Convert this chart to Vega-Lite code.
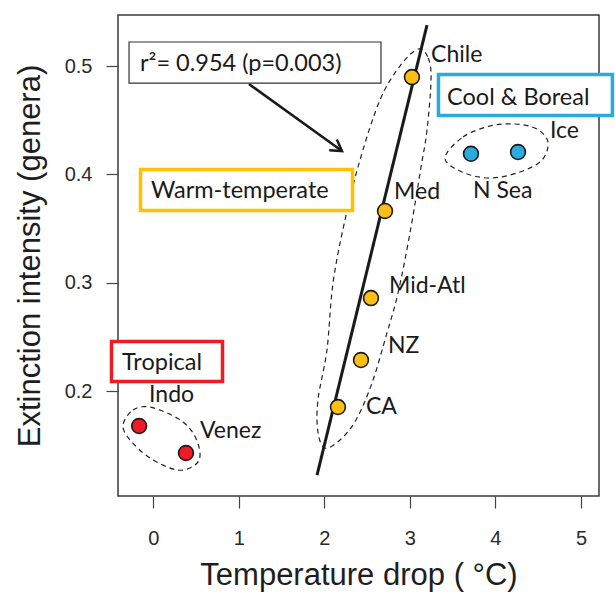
{
  "$schema": "https://vega.github.io/schema/vega-lite/v6.json",
  "width": 481,
  "height": 481,
  "autosize": {"type": "none"},
  "padding": {"left": 118, "top": 15, "right": 16, "bottom": 97},
  "background": "white",
  "config": {
    "view": {"stroke": "#3a3a3a", "strokeWidth": 1.5},
    "axis": {"grid": false, "domain": false, "tickColor": "#444", "tickWidth": 1.2, "tickSize": 12,
      "labelFont": "Liberation Sans", "labelFontSize": 20, "labelColor": "#2a2a2a",
      "titleFont": "Liberation Sans", "titleFontSize": 31, "titleFontWeight": "normal", "titleColor": "#1e1e1e"}
  },
  "datasets": {
    "pts": [
      {"name": "Chile", "region": "warm", "x": 3.024, "y": 0.4898},
      {"name": "Ice", "region": "cool", "x": 4.264, "y": 0.4206},
      {"name": "N Sea", "region": "cool", "x": 3.714, "y": 0.419},
      {"name": "Med", "region": "warm", "x": 2.709, "y": 0.3662},
      {"name": "Mid-Atl", "region": "warm", "x": 2.545, "y": 0.2858},
      {"name": "NZ", "region": "warm", "x": 2.428, "y": 0.2286},
      {"name": "CA", "region": "warm", "x": 2.159, "y": 0.1852},
      {"name": "Indo", "region": "trop", "x": -0.166, "y": 0.1677},
      {"name": "Venez", "region": "trop", "x": 0.382, "y": 0.1428}
    ],
    "labels": [
      {"name": "Chile", "x": 3.248, "y": 0.5037},
      {"name": "Ice", "x": 4.638, "y": 0.4335},
      {"name": "N Sea", "x": 3.737, "y": 0.3781},
      {"name": "Med", "x": 2.814, "y": 0.3772},
      {"name": "Mid-Atl", "x": 2.755, "y": 0.2906},
      {"name": "NZ", "x": 2.744, "y": 0.2352},
      {"name": "CA", "x": 2.486, "y": 0.1789},
      {"name": "Indo", "x": -0.05, "y": 0.1899},
      {"name": "Venez", "x": 0.546, "y": 0.1567}
    ],
    "fit": [
      {"x": 1.914, "y": 0.1224},
      {"x": 3.2, "y": 0.5378}
    ],
    "ell": [
      {"grp": "trop", "ord": 1, "x": -0.354, "y": 0.1686},
      {"grp": "trop", "ord": 2, "x": -0.237, "y": 0.1825},
      {"grp": "trop", "ord": 3, "x": -0.039, "y": 0.1852},
      {"grp": "trop", "ord": 4, "x": 0.277, "y": 0.1751},
      {"grp": "trop", "ord": 5, "x": 0.464, "y": 0.1613},
      {"grp": "trop", "ord": 6, "x": 0.546, "y": 0.1428},
      {"grp": "trop", "ord": 7, "x": 0.488, "y": 0.1317},
      {"grp": "trop", "ord": 8, "x": 0.277, "y": 0.1271},
      {"grp": "trop", "ord": 9, "x": -0.039, "y": 0.1382},
      {"grp": "trop", "ord": 10, "x": -0.272, "y": 0.1548},
      {"grp": "cool", "ord": 1, "x": 3.41, "y": 0.4151},
      {"grp": "cool", "ord": 2, "x": 3.621, "y": 0.4345},
      {"grp": "cool", "ord": 3, "x": 3.936, "y": 0.4446},
      {"grp": "cool", "ord": 4, "x": 4.229, "y": 0.4465},
      {"grp": "cool", "ord": 5, "x": 4.486, "y": 0.4418},
      {"grp": "cool", "ord": 6, "x": 4.614, "y": 0.4298},
      {"grp": "cool", "ord": 7, "x": 4.544, "y": 0.4132},
      {"grp": "cool", "ord": 8, "x": 4.287, "y": 0.4022},
      {"grp": "cool", "ord": 9, "x": 3.936, "y": 0.3966},
      {"grp": "cool", "ord": 10, "x": 3.609, "y": 0.4022},
      {"grp": "warm", "ord": 1, "x": 3.097, "y": 0.5157},
      {"grp": "warm", "ord": 2, "x": 3.214, "y": 0.5074},
      {"grp": "warm", "ord": 3, "x": 3.247, "y": 0.4871},
      {"grp": "warm", "ord": 4, "x": 3.2, "y": 0.4409},
      {"grp": "warm", "ord": 5, "x": 3.13, "y": 0.4068},
      {"grp": "warm", "ord": 6, "x": 3.001, "y": 0.3459},
      {"grp": "warm", "ord": 7, "x": 2.861, "y": 0.2905},
      {"grp": "warm", "ord": 8, "x": 2.732, "y": 0.2536},
      {"grp": "warm", "ord": 9, "x": 2.557, "y": 0.2074},
      {"grp": "warm", "ord": 10, "x": 2.37, "y": 0.1733},
      {"grp": "warm", "ord": 11, "x": 2.183, "y": 0.1548},
      {"grp": "warm", "ord": 12, "x": 2.007, "y": 0.1474},
      {"grp": "warm", "ord": 13, "x": 1.925, "y": 0.1622},
      {"grp": "warm", "ord": 14, "x": 1.925, "y": 0.1917},
      {"grp": "warm", "ord": 15, "x": 2.03, "y": 0.2379},
      {"grp": "warm", "ord": 16, "x": 2.101, "y": 0.2997},
      {"grp": "warm", "ord": 17, "x": 2.241, "y": 0.3579},
      {"grp": "warm", "ord": 18, "x": 2.416, "y": 0.4132},
      {"grp": "warm", "ord": 19, "x": 2.65, "y": 0.4686},
      {"grp": "warm", "ord": 20, "x": 2.884, "y": 0.5}
    ],
    "statbox": [
      {"x": -0.284, "x2": 2.662, "y": 0.5222, "y2": 0.4843}
    ],
    "boxes": [
      {"box": "warm", "x": -0.15, "x2": 2.329, "y": 0.4045, "y2": 0.3666},
      {"box": "cool", "x": 3.334, "x2": 5.368, "y": 0.4922, "y2": 0.4543},
      {"box": "trop", "x": -0.489, "x2": 0.809, "y": 0.2457, "y2": 0.2088}
    ],
    "boxtext": [
      {"text": "r²= 0.954 (p=0.003)", "x": -0.155, "y": 0.4954},
      {"text": "Warm-temperate", "x": -0.027, "y": 0.3781},
      {"text": "Cool & Boreal", "x": 3.434, "y": 0.464},
      {"text": "Tropical", "x": -0.366, "y": 0.2194}
    ],
    "arrow": [
      {"x": 1.118, "y": 0.4834, "x2": 2.206, "y2": 0.4215}
    ]
  },
  "encoding": {
    "x": {"field": "x", "type": "quantitative",
      "scale": {"domain": [-0.413, 5.211], "nice": false, "zero": false},
      "axis": {"values": [0, 1, 2, 3, 4, 5], "title": "Temperature drop ( °C)", "labelPadding": 20, "titlePadding": 12}},
    "y": {"field": "y", "type": "quantitative",
      "scale": {"domain": [0.1031, 0.5471], "nice": false, "zero": false},
      "axis": {"values": [0.2, 0.3, 0.4, 0.5], "format": ".1f", "title": "Extinction intensity (genera)", "labelPadding": 14, "titlePadding": 18}}
  },
  "layer": [
    {
      "data": {"name": "ell"},
      "mark": {"type": "line", "interpolate": "cardinal-closed", "strokeDash": [5, 4], "strokeWidth": 1.2, "color": "#222"},
      "encoding": {"detail": {"field": "grp"}, "order": {"field": "ord", "type": "quantitative"}}
    },
    {
      "data": {"name": "fit"},
      "mark": {"type": "line", "strokeWidth": 3, "color": "#1a1a1a"},
      "encoding": {}
    },
    {
      "data": {"name": "arrow"},
      "mark": {"type": "rule", "strokeWidth": 2.5, "color": "#1a1a1a"},
      "encoding": {"x2": {"field": "x2"}, "y2": {"field": "y2"}}
    },
    {
      "data": {"name": "arrow"},
      "mark": {"type": "point", "shape": "M -1 -0.6 L 0 0 L -1 0.6", "filled": false, "stroke": "#1a1a1a", "strokeWidth": 2.5, "size": 480, "angle": 35, "opacity": 1},
      "encoding": {"x": {"field": "x2", "type": "quantitative"}, "y": {"field": "y2", "type": "quantitative"}}
    },
    {
      "data": {"name": "statbox"},
      "mark": {"type": "rect", "fill": "white", "stroke": "#333", "strokeWidth": 1.2},
      "encoding": {"x2": {"field": "x2"}, "y2": {"field": "y2"}}
    },
    {
      "data": {"name": "boxes"},
      "mark": {"type": "rect", "fill": "white", "strokeWidth": 3.5},
      "encoding": {"x2": {"field": "x2"}, "y2": {"field": "y2"},
        "stroke": {"field": "box", "type": "nominal", "scale": {"domain": ["warm", "cool", "trop"], "range": ["#FFC000", "#29ABE2", "#ED1C24"]}, "legend": null}}
    },
    {
      "data": {"name": "boxtext"},
      "mark": {"type": "text", "align": "left", "baseline": "alphabetic", "font": "Lato", "fontSize": 23.5, "color": "#1a1a1a"},
      "encoding": {"text": {"field": "text"}}
    },
    {
      "data": {"name": "pts"},
      "mark": {"type": "circle", "size": 220, "stroke": "#1a1a1a", "strokeWidth": 1.6, "opacity": 1},
      "encoding": {"fill": {"field": "region", "type": "nominal", "scale": {"domain": ["warm", "cool", "trop"], "range": ["#FDBE16", "#29ABE2", "#ED1C24"]}, "legend": null}}
    },
    {
      "data": {"name": "labels"},
      "mark": {"type": "text", "align": "left", "baseline": "alphabetic", "font": "Lato", "fontSize": 23, "color": "#1a1a1a"},
      "encoding": {"text": {"field": "name"}}
    }
  ]
}
